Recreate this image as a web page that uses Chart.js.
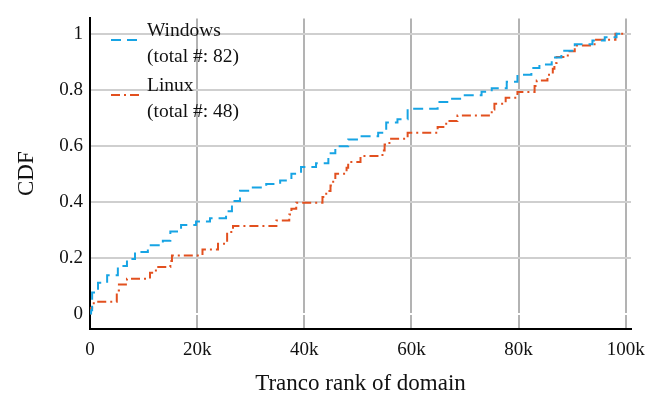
<!DOCTYPE html>
<html lang="en">
<head>
	<meta charset="UTF-8">
	<title>CDF of Tranco rank</title>
	<script src="https://cdn.jsdelivr.net/npm/chart.js@4.4.1/dist/chart.umd.min.js"></script>
	<style>
		html, body { margin: 0; padding: 0; background: #fff; }
		#wrap { width: 660px; height: 395px; }
	</style>
</head>
<body>
	<div id="wrap">
		<canvas id="cdfChart" width="660" height="395"></canvas>
	</div>

	<script>
		// ranks in thousands, CDF level reached at that rank
		var winRank = [0, 0.2, 0.4, 1.5, 3.2, 5.2, 6.9, 8.4, 10.8, 13.6, 15.0, 17.0, 19.8, 22.4, 25.4, 26.5, 28.0, 30.1,
			32.9, 35.5, 37.6, 39.4, 42.2, 44.5, 45.8, 48.2, 50.5, 53.8, 55.3, 57.4, 59.3, 64.9, 66.7, 69.5, 73.1, 75.0,
			77.8, 79.8, 82.4, 83.9, 86.2, 88.0, 90.5, 93.8, 96.1, 98.3, 99.8];
		var winCdf = [0, 0.012, 0.075, 0.11, 0.137, 0.17, 0.195, 0.22, 0.244, 0.26, 0.293, 0.317, 0.329, 0.341, 0.366, 0.402, 0.439, 0.451,
			0.463, 0.476, 0.5, 0.524, 0.537, 0.573, 0.598, 0.622, 0.634, 0.646, 0.683, 0.695, 0.732, 0.756, 0.768, 0.78, 0.793, 0.805,
			0.829, 0.854, 0.878, 0.89, 0.915, 0.939, 0.963, 0.976, 0.988, 1.0, 1.0];

		var linRank = [0, 0.1, 0.7, 5.0, 5.4, 6.9, 11.2, 12.3, 15.0, 15.3, 21.0, 23.9, 25.6, 26.7, 34.8, 37.2, 37.6, 38.5,
			43.4, 44.1, 44.9, 45.4, 45.8, 47.9, 48.2, 50.5, 54.6, 55.0, 55.9, 59.3, 64.9, 66.5, 68.6, 75.0, 75.5, 77.6,
			79.8, 83.0, 83.4, 85.4, 86.4, 86.7, 87.1, 89.2, 90.5, 94.2, 98.1, 99.8];
		var linCdf = [0, 0.021, 0.042, 0.083, 0.104, 0.125, 0.146, 0.167, 0.188, 0.208, 0.229, 0.25, 0.292, 0.313, 0.333, 0.354, 0.375, 0.396,
			0.417, 0.438, 0.458, 0.479, 0.5, 0.521, 0.542, 0.563, 0.583, 0.604, 0.625, 0.646, 0.667, 0.688, 0.708, 0.729, 0.75, 0.771,
			0.792, 0.813, 0.833, 0.854, 0.875, 0.896, 0.917, 0.938, 0.958, 0.979, 1.0, 1.0];

		var xTicks = [0, 20, 40, 60, 80, 100];
		var yTicks = [0, 0.2, 0.4, 0.6, 0.8, 1];
		var legendLines = [['Windows', '(total #: 82)'], ['Linux', '(total #: 48)']];

		var FONT = "'Liberation Serif', 'DejaVu Serif', serif";
		var BLUE = '#17a4e4';
		var RED = '#e2501f';
		var DASH_WIN = [10, 6];
		var DASH_LIN = [9, 4, 2, 4];

		function toPoints(xs, ys) {
			return xs.map(function (x, i) { return { x: x, y: ys[i] }; });
		}

		// two-line legend entries drawn top left inside the plot
		var legendPlugin = {
			id: 'twoLineLegend',
			afterDraw: function (chart) {
				var ctx = chart.ctx;
				var styles = [[BLUE, DASH_WIN], [RED, DASH_LIN]];
				ctx.save();
				ctx.font = '19.5px ' + FONT;
				ctx.fillStyle = '#111';
				ctx.textBaseline = 'middle';
				legendLines.forEach(function (lines, i) {
					var top = 31 + i * 55;
					ctx.fillText(lines[0], 147, top);
					ctx.fillText(lines[1], 147, top + 26);
					ctx.beginPath();
					ctx.setLineDash(styles[i][1]);
					ctx.strokeStyle = styles[i][0];
					ctx.lineWidth = 2;
					ctx.moveTo(111, top + 9);
					ctx.lineTo(139, top + 9);
					ctx.stroke();
				});
				ctx.restore();
			}
		};

		var chart = new Chart(document.getElementById('cdfChart'), {
			type: 'line',
			data: {
				datasets: [{
						label: 'Windows',
						data: toPoints(winRank, winCdf),
						borderColor: BLUE,
						borderDash: DASH_WIN,
						borderWidth: 2,
						stepped: 'before',
						pointRadius: 0,
						fill: false
					},
					{
						label: 'Linux',
						data: toPoints(linRank, linCdf),
						borderColor: RED,
						borderDash: DASH_LIN,
						borderWidth: 2,
						stepped: 'before',
						pointRadius: 0,
						fill: false
					}
				]
			},
			plugins: [legendPlugin],
			options: {
				responsive: false,
				animation: false,
				layout: {
					padding: { top: 8, right: 29, left: 0, bottom: 0 }
				},
				plugins: {
					legend: { display: false },
					tooltip: { enabled: false }
				},
				scales: {
					x: {
						type: 'linear',
						min: 0,
						max: 101,
						afterFit: function (scale) { scale.height = 66; },
						afterBuildTicks: function (scale) {
							scale.ticks = xTicks.map(function (v) { return { value: v }; });
						},
						ticks: {
							color: '#111',
							padding: 10,
							font: { family: FONT, size: 19 },
							maxRotation: 0,
							callback: function (v) { return v === 0 ? '0' : v + 'k'; }
						},
						grid: {
							drawTicks: false,
							lineWidth: 2,
							color: function (c) { return c.tick && c.tick.value === 0 ? 'rgba(0,0,0,0)' : '#b3b3b3'; }
						},
						border: { color: '#000', width: 2 },
						title: {
							display: true,
							text: 'Tranco rank of domain',
							color: '#111',
							font: { family: FONT, size: 23, lineHeight: 1 },
							padding: { top: 0, bottom: 0 }
						}
					},
					y: {
						min: -0.055,
						max: 1.055,
						afterFit: function (scale) { scale.width = 90; },
						afterBuildTicks: function (scale) {
							scale.ticks = yTicks.map(function (v) { return { value: v }; });
						},
						ticks: {
							color: '#111',
							padding: 7,
							font: { family: FONT, size: 19 },
							callback: function (v) { return String(v); }
						},
						grid: {
							drawTicks: false,
							lineWidth: 2,
							color: function (c) { return c.tick && c.tick.value === 0 ? '#ffffff' : '#cfcfcf'; }
						},
						border: { color: '#000', width: 2 },
						title: {
							display: true,
							text: 'CDF',
							color: '#111',
							font: { family: FONT, size: 23 },
							padding: { top: 13, bottom: 0 }
						}
					}
				}
			}
		});
	</script>
</body>
</html>
